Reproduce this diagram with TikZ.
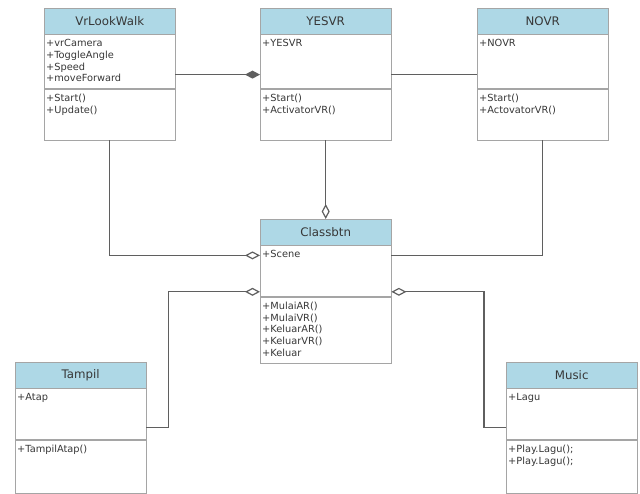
\documentclass[tikz,border=0pt]{standalone}
\usepackage{fontspec}
\setmainfont{DejaVu Sans}
\usetikzlibrary{positioning, arrows.meta}
\definecolor{headblue}{RGB}{174,216,230}
\definecolor{boxgray}{RGB}{165,165,165}
\definecolor{linegray}{RGB}{95,95,95}
\definecolor{textgray}{RGB}{55,55,55}
\tikzstyle{line} = [draw=linegray, line width=1.2pt]

\begin{document}
\begin{tikzpicture}[x=1pt, y=-1pt,
 head/.style={draw=boxgray, fill=headblue, minimum width=131pt, minimum height=26pt, inner sep=0pt, font=\fontsize{11.8}{14}\selectfont, text=textgray, anchor=north west},
 part/.style={draw=boxgray, fill=white, minimum width=131pt, inner sep=0pt},
 members/.style={anchor=north west, align=left, inner sep=1pt, font=\fontsize{9.8}{11.7}\selectfont, text=textgray},
 agg/.style={-{Diamond[open,length=15pt,width=8pt]}},
 comp/.style={-{Diamond[length=15pt,width=8pt]}}]
 \useasboundingbox (0,0) rectangle (640,493);

 % top row
 \node[head] (vrH) at (44,8) {VrLookWalk};
 \node[part, below=0pt of vrH, minimum height=54pt] (vrA) {};
 \node[part, below=0pt of vrA, minimum height=51pt] (vrM) {};
 \node[members] (vrAt) at ([xshift=1pt,yshift=-4pt]vrA.north west) {+vrCamera\\+ToggleAngle\\+Speed\\+moveForward};
 \node[members] (vrMt) at ([xshift=1pt,yshift=-4pt]vrM.north west) {+Start()\\+Update()};

 \node[head] (yesH) at (260,8) {YESVR};
 \node[part, below=0pt of yesH, minimum height=54pt] (yesA) {};
 \node[part, below=0pt of yesA, minimum height=51pt] (yesM) {};
 \node[members] (yesAt) at ([xshift=1pt,yshift=-4pt]yesA.north west) {+YESVR};
 \node[members] (yesMt) at ([xshift=1pt,yshift=-4pt]yesM.north west) {+Start()\\+ActivatorVR()};

 \node[head] (noH) at (477,8) {NOVR};
 \node[part, below=0pt of noH, minimum height=54pt] (noA) {};
 \node[part, below=0pt of noA, minimum height=51pt] (noM) {};
 \node[members] (noAt) at ([xshift=1pt,yshift=-4pt]noA.north west) {+NOVR};
 \node[members] (noMt) at ([xshift=1pt,yshift=-4pt]noM.north west) {+Start()\\+ActovatorVR()};

 % middle
 \node[head] (btnH) at (260,219) {Classbtn};
 \node[part, below=0pt of btnH, minimum height=51pt] (btnA) {};
 \node[part, below=0pt of btnA, minimum height=66pt] (btnM) {};
 \node[members] (btnAt) at ([xshift=1pt,yshift=-4pt]btnA.north west) {+Scene};
 \node[members] (btnMt) at ([xshift=1pt,yshift=-4pt]btnM.north west) {+MulaiAR()\\+MulaiVR()\\+KeluarAR()\\+KeluarVR()\\+Keluar};

 % bottom row
 \node[head] (tamH) at (15,362) {Tampil};
 \node[part, below=0pt of tamH, minimum height=51pt] (tamA) {};
 \node[part, below=0pt of tamA, minimum height=53pt] (tamM) {};
 \node[members] (tamAt) at ([xshift=1pt,yshift=-4pt]tamA.north west) {+Atap};
 \node[members] (tamMt) at ([xshift=1pt,yshift=-4pt]tamM.north west) {+TampilAtap()};

 \node[head] (musH) at (506,362) {Music};
 \node[part, below=0pt of musH, minimum height=51pt] (musA) {};
 \node[part, below=0pt of musA, minimum height=53pt] (musM) {};
 \node[members] (musAt) at ([xshift=1pt,yshift=-4pt]musA.north west) {+Lagu};
 \node[members] (musMt) at ([xshift=1pt,yshift=-4pt]musM.north west) {+Play.Lagu();\\+Play.Lagu();};

 % relations
 \draw[line, comp] ([yshift=-13pt]vrA.east) -- ([yshift=-13pt]yesA.west);
 \draw[line] ([yshift=-13pt]yesA.east) -- ([yshift=-13pt]noA.west);
 \draw[line, agg] (yesM.south) -- (btnH.north);
 \draw[line, agg] (vrM.south) |- ([yshift=-10pt]btnA.north west);
 \draw[line] (noM.south) |- ([yshift=-10pt]btnA.north east);
 \draw[line, agg] ([yshift=12pt]tamA.south east) -- ++(22,0) |- ([yshift=5pt]btnA.south west);
 \draw[line, agg] ([yshift=12pt]musA.south west) -- ++(-22,0) |- ([yshift=5pt]btnA.south east);
\end{tikzpicture}
\end{document}
